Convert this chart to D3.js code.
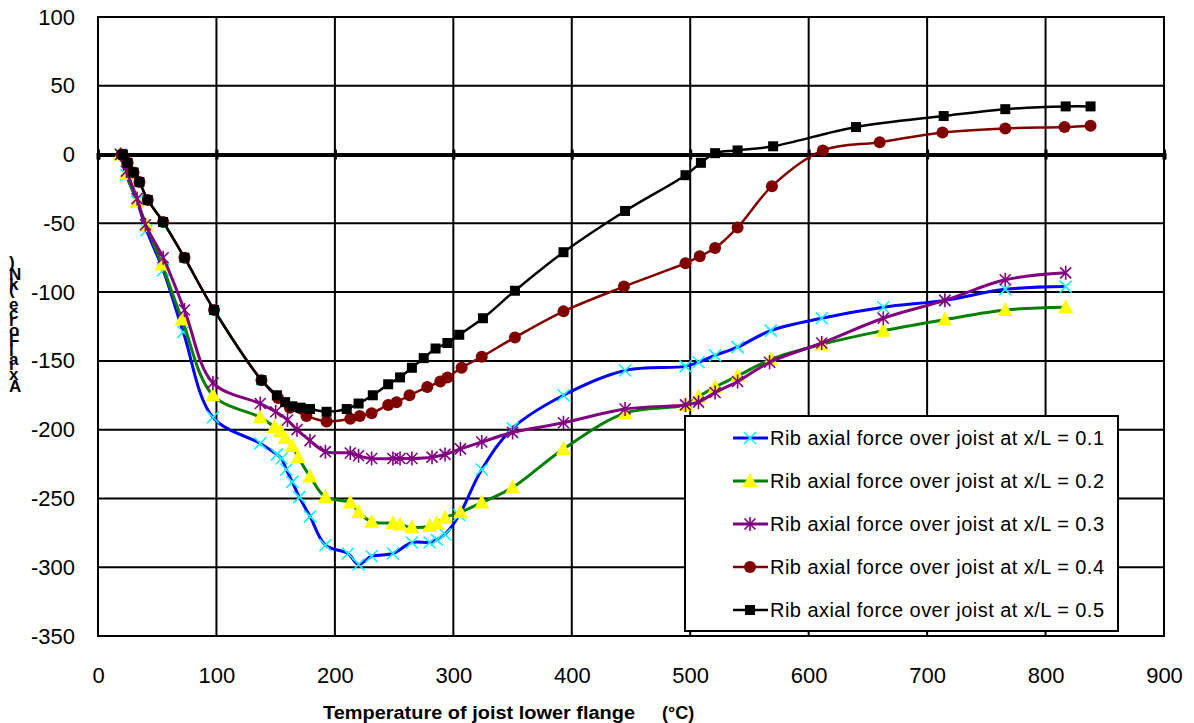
<!DOCTYPE html>
<html>
<head>
<meta charset="utf-8">
<script src="https://cdn.jsdelivr.net/npm/d3@7"></script>
<style>
  body { margin: 0; background: #fff; }
  svg { display: block; font-family: "Liberation Sans", Arial, sans-serif; }
</style>
</head>
<body>
<svg id="chart" width="1194" height="723"></svg>
<script>
// temperatures (°C) and axial forces (kN)
const temp1 = [19, 24, 33, 41, 55, 72, 97, 137, 151, 155, 159, 164, 170, 179, 192, 211, 220, 231, 249, 265, 280, 286, 293, 305, 324, 350, 393, 445, 496, 507, 521, 540, 568, 611, 663, 715, 766, 817];
const force1 = [0, -15, -34, -55, -84, -129, -191, -210, -218, -221, -229, -238, -249, -263, -284, -290, -298, -292, -290, -282, -282, -280, -276, -262, -229, -199, -175, -157, -154, -151, -146, -140, -128, -119, -111, -106, -98, -96];

const temp2 = [19, 24, 33, 41, 54, 71, 97, 137, 149, 154, 158, 164, 169, 179, 192, 213, 220, 231, 249, 255, 265, 280, 286, 293, 306, 324, 350, 393, 445, 496, 507, 521, 540, 568, 611, 663, 715, 766, 817];
const force2 = [0, -14, -34, -52, -80, -120, -175, -191, -198, -201, -206, -212, -220, -234, -249, -253, -260, -267, -268, -269, -271, -270, -268, -264, -260, -253, -242, -214, -188, -182, -176, -169, -161, -149, -138, -128, -120, -113, -111];

const temp3 = [19, 24, 33, 40, 55, 73, 97, 137, 150, 160, 168, 179, 192, 213, 220, 231, 249, 255, 265, 282, 293, 306, 324, 350, 393, 445, 496, 507, 521, 540, 567, 611, 663, 715, 766, 817];
const force3 = [0, -12, -32, -51, -75, -113, -166, -181, -187, -193, -200, -208, -216, -217, -219, -221, -221, -221, -221, -220, -218, -214, -209, -202, -195, -185, -182, -180, -173, -165, -151, -137, -119, -106, -91, -86];

const temp4 = [20, 25, 30, 35, 42, 55, 73, 98, 138, 152, 162, 176, 193, 213, 221, 231, 245, 252, 263, 278, 289, 295, 307, 324, 352, 393, 444, 496, 508, 521, 540, 569, 612, 660, 713, 766, 816, 838];
const force4 = [0, -6, -13, -20, -33, -49, -75, -113, -164, -177, -184, -190, -194, -192, -190, -188, -182, -180, -175, -169, -165, -162, -155, -147, -133, -114, -96, -79, -74, -68, -53, -23, 3, 9, 16, 19, 20, 21];

const temp5 = [21, 25, 30, 35, 42, 55, 73, 98, 138, 151, 158, 164, 171, 179, 193, 210, 220, 232, 245, 255, 265, 275, 285, 295, 305, 325, 352, 393, 445, 496, 509, 521, 540, 570, 640, 714, 766, 817, 838];
const force5 = [0, -6, -13, -20, -33, -49, -75, -113, -164, -175, -180, -183, -184, -185, -187, -185, -181, -175, -167, -162, -155, -148, -141, -137, -131, -119, -99, -71, -41, -15, -6, 1, 3, 6, 20, 28, 33, 35, 35];

const seriesNames = [
  "Rib axial force over joist at x/L = 0.1",
  "Rib axial force over joist at x/L = 0.2",
  "Rib axial force over joist at x/L = 0.3",
  "Rib axial force over joist at x/L = 0.4",
  "Rib axial force over joist at x/L = 0.5"
];
const xTicks = [0, 100, 200, 300, 400, 500, 600, 700, 800, 900];
const yTicks = [100, 50, 0, -50, -100, -150, -200, -250, -300, -350];

const styles = [
  {line: "#0000ff", width: 3, marker: "x", fill: "none", mstroke: "#00ffff"},
  {line: "#008000", width: 3, marker: "tri", fill: "#ffff00", mstroke: "none"},
  {line: "#800080", width: 3, marker: "star", fill: "none", mstroke: "#800080"},
  {line: "#800000", width: 2.5, marker: "circle", fill: "#800000", mstroke: "none"},
  {line: "#000000", width: 2.5, marker: "square", fill: "#000000", mstroke: "none"}
];

const series = [
  {t: temp1, f: force1}, {t: temp2, f: force2}, {t: temp3, f: force3},
  {t: temp4, f: force4}, {t: temp5, f: force5}
].map((s, i) => ({name: seriesNames[i], style: styles[i],
  pts: s.t.map((t, j) => ({t: t, f: s.f[j]}))}));

const svg = d3.select("#chart");
const margin = {top: 17, right: 30, bottom: 87, left: 98};
const width = 1194 - margin.left - margin.right,
      height = 723 - margin.top - margin.bottom;

const x = d3.scaleLinear().domain([0, 900]).range([0, width]);
const y = d3.scaleLinear().domain([-350, 100]).range([height, 0]);

const g = svg.append("g").attr("transform", `translate(${margin.left},${margin.top})`);

// grid
g.append("g").selectAll("line.h").data(yTicks).enter().append("line")
  .attr("x1", 0).attr("x2", width)
  .attr("y1", d => y(d)).attr("y2", d => y(d))
  .attr("stroke", "#000").attr("stroke-width", 2);
g.append("g").selectAll("line.v").data(xTicks).enter().append("line")
  .attr("y1", 0).attr("y2", height)
  .attr("x1", d => x(d)).attr("x2", d => x(d))
  .attr("stroke", "#000").attr("stroke-width", 2);
g.append("rect").attr("width", width).attr("height", height)
  .attr("fill", "none").attr("stroke", "#000").attr("stroke-width", 2);

// x axis line at zero with crossing ticks
const zeroAxis = g.append("g").attr("transform", `translate(0,${y(0)})`)
  .call(d3.axisBottom(x).tickValues(xTicks).tickSize(5).tickFormat(""));
zeroAxis.select(".domain").attr("stroke-width", 4);
zeroAxis.selectAll(".tick line").attr("y1", -5).attr("stroke-width", 3);

// tick labels
const xLab = g.append("g").attr("transform", `translate(0,${height})`)
  .call(d3.axisBottom(x).tickValues(xTicks).tickSize(0).tickPadding(31));
xLab.select(".domain").remove();
xLab.selectAll("text").attr("font-size", 22).attr("font-family", "Liberation Sans, Arial").attr("fill", "#000");

const yLab = g.append("g")
  .call(d3.axisLeft(y).tickValues(yTicks).tickSize(0).tickPadding(23).tickFormat(d => String(d)));
yLab.select(".domain").remove();
yLab.selectAll("text").attr("font-size", 22).attr("font-family", "Liberation Sans, Arial").attr("fill", "#000");

// lines
const line = d3.line().x(d => x(d.t)).y(d => y(d.f)).curve(d3.curveCatmullRom.alpha(0.5));

function drawMarker(sel, st) {
  if (st.marker === "x") {
    sel.append("path").attr("d", "M-6,-6L6,6M-6,6L6,-6")
      .attr("stroke", st.mstroke).attr("stroke-width", 1.6).attr("fill", "none");
  } else if (st.marker === "star") {
    sel.append("path").attr("d", "M-5.5,-5.5L5.5,5.5M-5.5,5.5L5.5,-5.5M0,-7L0,7")
      .attr("stroke", st.mstroke).attr("stroke-width", 1.6).attr("fill", "none");
  } else if (st.marker === "tri") {
    sel.append("path").attr("d", "M0,-8L7.5,6L-7.5,6Z").attr("fill", st.fill);
  } else if (st.marker === "circle") {
    sel.append("circle").attr("r", 6).attr("fill", st.fill);
  } else {
    sel.append("rect").attr("x", -5).attr("y", -5).attr("width", 10).attr("height", 10).attr("fill", st.fill);
  }
}

series.forEach(s => {
  g.append("path").datum(s.pts).attr("d", line)
    .attr("fill", "none").attr("stroke", s.style.line).attr("stroke-width", s.style.width)
    .attr("stroke-linejoin", "round");
  g.append("g").selectAll("g").data(s.pts).enter().append("g")
    .attr("transform", d => `translate(${x(d.t)},${y(d.f)})`)
    .each(function() { drawMarker(d3.select(this), s.style); });
});

// legend
const leg = svg.append("g").attr("transform", "translate(685,416)");
leg.append("rect").attr("width", 433).attr("height", 215)
  .attr("fill", "#fff").attr("stroke", "#000").attr("stroke-width", 2);
series.forEach((s, i) => {
  const row = leg.append("g").attr("transform", `translate(0,${22 + i * 43})`);
  row.append("line").attr("x1", 48).attr("x2", 83)
    .attr("stroke", s.style.line).attr("stroke-width", s.style.width);
  const m = row.append("g").attr("transform", "translate(65,0)");
  drawMarker(m, s.style);
  row.append("text").attr("x", 85).attr("y", 7)
    .attr("font-size", 20).attr("fill", "#000")
    .attr("textLength", 334).attr("lengthAdjust", "spacing")
    .text(s.name);
});

// axis titles
svg.append("text").attr("x", 323).attr("y", 719)
  .attr("font-size", 18).attr("font-weight", "bold").attr("fill", "#000")
  .attr("textLength", 312).attr("lengthAdjust", "spacingAndGlyphs")
  .text("Temperature of joist lower flange");
svg.append("text").attr("x", 662).attr("y", 719)
  .attr("font-size", 18).attr("font-weight", "bold").attr("fill", "#000")
  .text("(°C)");

// y title: rotated run with upright glyphs, as the picture shows
svg.append("text")
  .attr("transform", "rotate(-90)")
  .attr("x", -327).attr("y", 9)
  .attr("text-anchor", "middle")
  .attr("rotate", 90)
  .attr("font-size", 17).attr("font-weight", "bold").attr("fill", "#000")
  .text("Axial Force (kN)");
</script>
</body>
</html>
